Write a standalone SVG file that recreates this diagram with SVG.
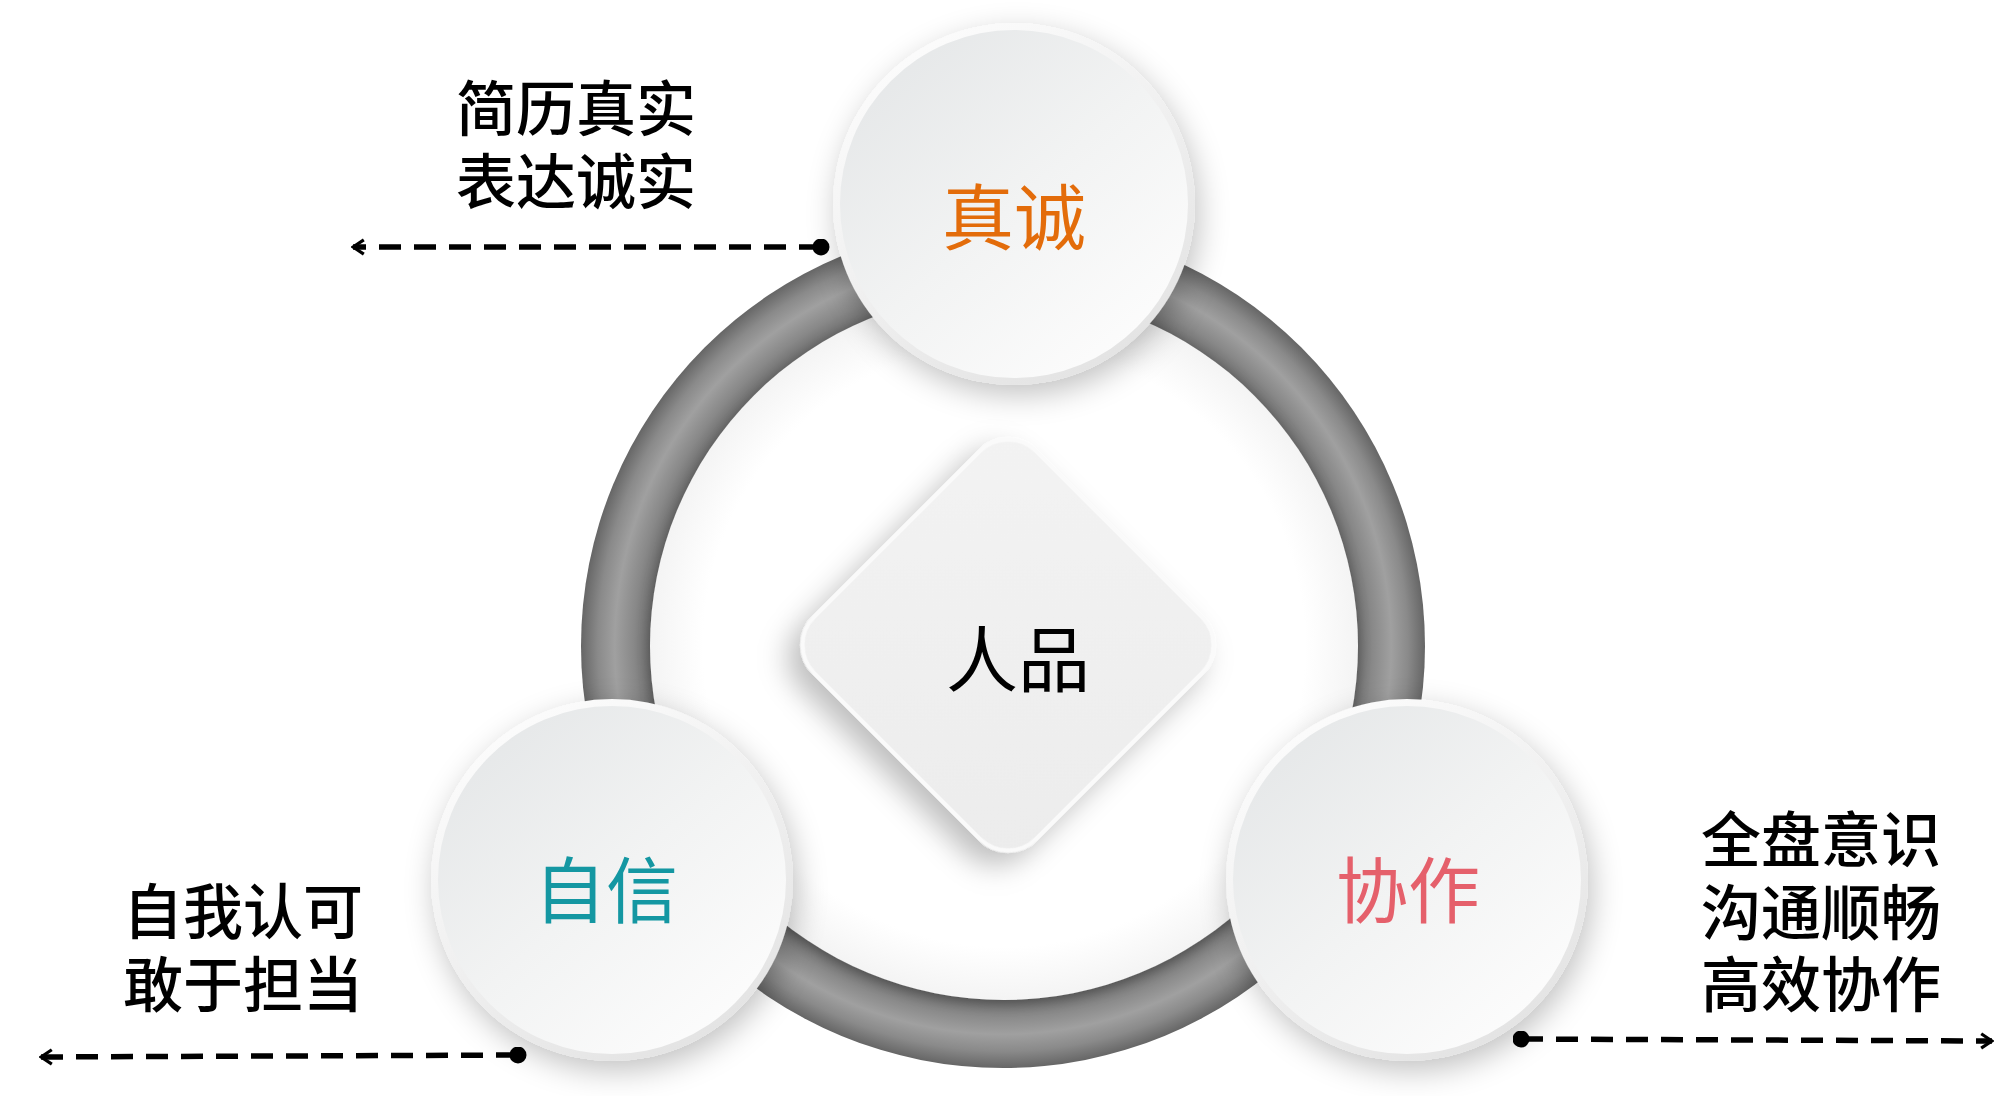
<svg xmlns="http://www.w3.org/2000/svg" width="2006" height="1096" viewBox="0 0 2006 1096">
  <style>
    .side { font-family: "Noto Sans CJK SC", "Liberation Sans", sans-serif; font-size: 60px; font-weight: 500; fill: #000; }
    .label { font-family: "Noto Sans CJK SC", "Liberation Sans", sans-serif; font-size: 72px; font-weight: 400; }
    .dash { stroke: #000; stroke-width: 5.5; stroke-dasharray: 22 13; fill: none; }
  </style>
  <defs>
    <radialGradient id="ringGrad" gradientUnits="userSpaceOnUse" cx="1003" cy="646" r="422">
      <stop offset="0.835" stop-color="#6a6a6a"/>
      <stop offset="0.875" stop-color="#888888"/>
      <stop offset="0.92" stop-color="#a0a0a0"/>
      <stop offset="0.96" stop-color="#8a8a8a"/>
      <stop offset="1" stop-color="#666666"/>
    </radialGradient>
    <linearGradient id="faceGrad" x1="0.15" y1="0.1" x2="0.85" y2="0.9">
      <stop offset="0" stop-color="#e6e8e9"/>
      <stop offset="0.5" stop-color="#f2f3f3"/>
      <stop offset="1" stop-color="#fcfcfc"/>
    </linearGradient>
    <linearGradient id="rimGrad" x1="0.2" y1="0" x2="0.8" y2="1">
      <stop offset="0" stop-color="#fdfdfd"/>
      <stop offset="1" stop-color="#e2e2e2"/>
    </linearGradient>
    <linearGradient id="diaGrad" x1="0" y1="0" x2="1" y2="1">
      <stop offset="0" stop-color="#f3f3f3"/>
      <stop offset="1" stop-color="#ececec"/>
    </linearGradient>
    <radialGradient id="diskGrad" cx="0.5" cy="0.5" r="0.5">
      <stop offset="0.85" stop-color="#ffffff"/>
      <stop offset="1" stop-color="#f4f4f4"/>
    </radialGradient>
    <filter id="shadow" x="-30%" y="-30%" width="160%" height="160%">
      <feDropShadow dx="4" dy="10" stdDeviation="15" flood-color="#000" flood-opacity="0.24"/>
    </filter>
    <filter id="diaShadow" x="-30%" y="-30%" width="160%" height="170%">
      <feDropShadow dx="0" dy="18" stdDeviation="14" flood-color="#000" flood-opacity="0.25"/>
    </filter>
    <filter id="diskShadow" x="-20%" y="-20%" width="140%" height="140%">
      <feDropShadow dx="0" dy="4" stdDeviation="6" flood-color="#000" flood-opacity="0.25"/>
    </filter>
    <marker id="arrow" viewBox="0 0 10 10" refX="9" refY="5" markerWidth="18" markerHeight="18" markerUnits="userSpaceOnUse" orient="auto">
      <path d="M3,1 L9,5 L3,9" fill="none" stroke="#000" stroke-width="1.8"/>
    </marker>
    <marker id="dot" viewBox="0 0 10 10" refX="5" refY="5" markerWidth="17" markerHeight="17" markerUnits="userSpaceOnUse">
      <circle cx="5" cy="5" r="5" fill="#000"/>
    </marker>
  </defs>

  <rect width="2006" height="1096" fill="#ffffff"/>

  <g id="ring">
    <circle cx="1003" cy="646" r="422" fill="url(#ringGrad)"/>
    <circle cx="1004" cy="646" r="354" fill="url(#diskGrad)" filter="url(#diskShadow)"/>
  </g>

  <g id="connectors">
    <line class="dash" x1="821" y1="247" x2="353" y2="247" marker-start="url(#dot)" marker-end="url(#arrow)"/>
    <line class="dash" x1="518" y1="1055" x2="41" y2="1057" marker-start="url(#dot)" marker-end="url(#arrow)"/>
    <line class="dash" x1="1521" y1="1039" x2="1992" y2="1041" marker-start="url(#dot)" marker-end="url(#arrow)"/>
  </g>

  <g id="node-center">
    <rect x="-157" y="-157" width="314" height="314" rx="40" fill="url(#diaGrad)" stroke="#fafafa" stroke-width="4" transform="translate(1008,645) rotate(45)" filter="url(#diaShadow)"/>
    <text class="label" x="1018" y="654" text-anchor="middle" dominant-baseline="central" fill="#000">人品</text>
  </g>

  <g id="node-zhencheng">
    <circle cx="1014" cy="204" r="181" fill="url(#rimGrad)" filter="url(#shadow)"/>
    <circle cx="1014" cy="204" r="174" fill="url(#faceGrad)"/>
    <text class="label" x="1014" y="212" text-anchor="middle" dominant-baseline="central" fill="#e36c0a">真诚</text>
  </g>

  <g id="node-zixin">
    <circle cx="612" cy="880" r="181" fill="url(#rimGrad)" filter="url(#shadow)"/>
    <circle cx="612" cy="880" r="174" fill="url(#faceGrad)"/>
    <text class="label" x="606" y="885" text-anchor="middle" dominant-baseline="central" fill="#1497a2">自信</text>
  </g>

  <g id="node-xiezuo">
    <circle cx="1407" cy="880" r="181" fill="url(#rimGrad)" filter="url(#shadow)"/>
    <circle cx="1407" cy="880" r="174" fill="url(#faceGrad)"/>
    <text class="label" x="1408" y="885" text-anchor="middle" dominant-baseline="central" fill="#e5606b">协作</text>
  </g>

  <g id="text-top">
    <text class="side" x="576" y="104" text-anchor="middle" dominant-baseline="central">简历真实</text>
    <text class="side" x="576" y="177" text-anchor="middle" dominant-baseline="central">表达诚实</text>
  </g>

  <g id="text-left">
    <text class="side" x="243" y="907" text-anchor="middle" dominant-baseline="central">自我认可</text>
    <text class="side" x="243" y="980" text-anchor="middle" dominant-baseline="central">敢于担当</text>
  </g>

  <g id="text-right">
    <text class="side" x="1821" y="835" text-anchor="middle" dominant-baseline="central">全盘意识</text>
    <text class="side" x="1821" y="908" text-anchor="middle" dominant-baseline="central">沟通顺畅</text>
    <text class="side" x="1821" y="980" text-anchor="middle" dominant-baseline="central">高效协作</text>
  </g>
</svg>
